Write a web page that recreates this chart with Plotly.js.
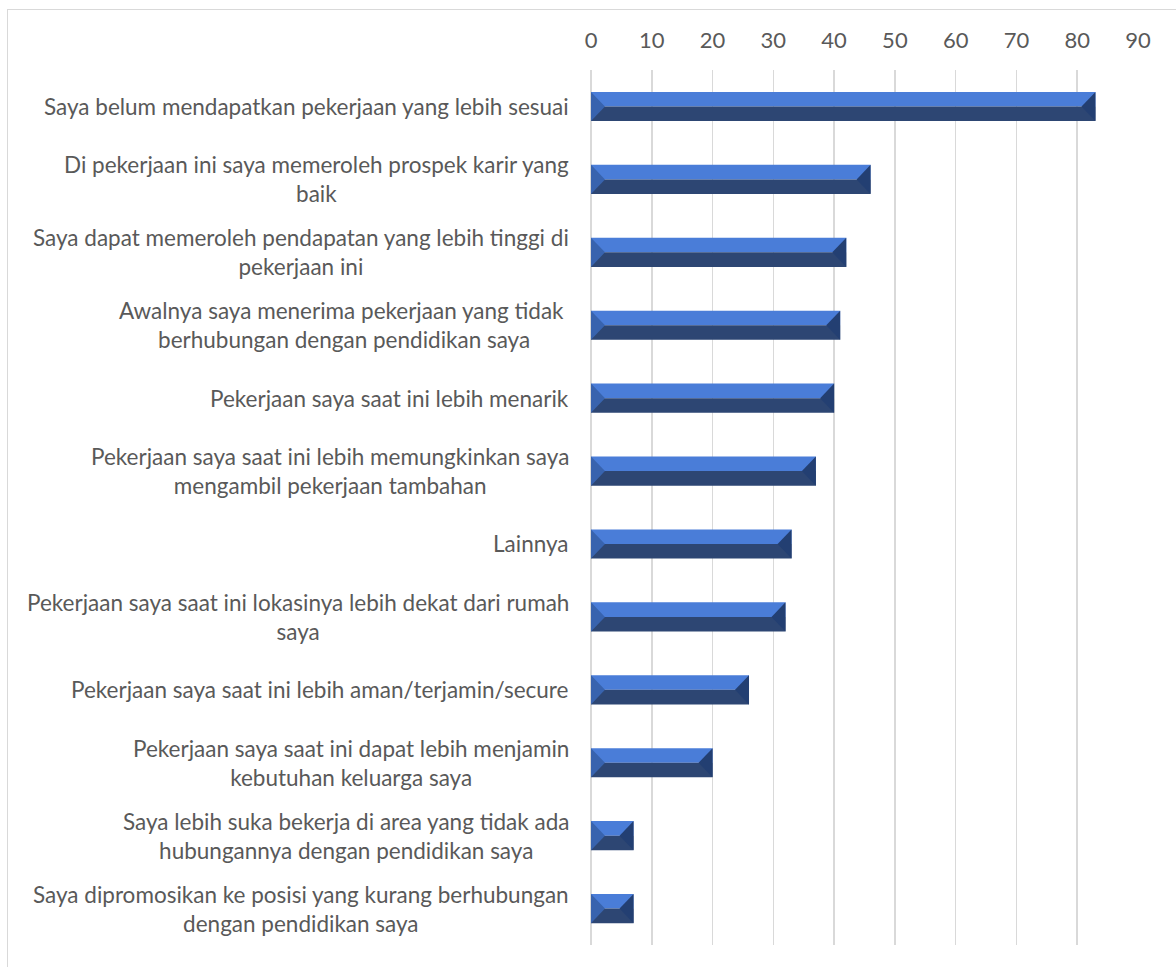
<!DOCTYPE html>
<html>
<head>
<meta charset="utf-8">
<script src="https://cdn.plot.ly/plotly-3.0.1.min.js"></script>
<style>
  html, body { margin: 0; padding: 0; background: #ffffff; }
  #frame { position: absolute; left: 7px; top: 9px; width: 1200px; height: 1000px; border: 1px solid #d9d9d9; box-sizing: border-box; }
  #chart { position: absolute; left: 0; top: 0; width: 1176px; height: 967px; }
</style>
</head>
<body>
<div id="frame"></div>
<div id="chart"></div>
<script>
const categories = [
  "Saya belum mendapatkan pekerjaan yang lebih sesuai",
  "Di pekerjaan ini saya memeroleh prospek karir yang<br>baik",
  "Saya dapat memeroleh pendapatan yang lebih tinggi di<br>pekerjaan ini",
  "Awalnya saya menerima pekerjaan yang tidak <br>berhubungan dengan pendidikan saya",
  "Pekerjaan saya saat ini lebih menarik",
  "Pekerjaan saya saat ini lebih memungkinkan saya<br>mengambil pekerjaan tambahan",
  "Lainnya",
  "Pekerjaan saya saat ini lokasinya lebih dekat dari rumah<br>saya",
  "Pekerjaan saya saat ini lebih aman/terjamin/secure",
  "Pekerjaan saya saat ini dapat lebih menjamin<br>kebutuhan keluarga saya",
  "Saya lebih suka bekerja di area yang tidak ada<br>hubungannya dengan pendidikan saya",
  "Saya dipromosikan ke posisi yang kurang berhubungan<br>dengan pendidikan saya"
];
const values = [83, 46, 42, 41, 40, 37, 33, 32, 26, 20, 7, 7];
const xTicks = [0, 10, 20, 30, 40, 50, 60, 70, 80, 90];

const FONT = "Lato, 'Liberation Sans', sans-serif";
const TXT = "#595959";
const LIGHT = "#4a7dd8";
const DARK = "#2d4673";
const LEFTC = "#3863ae";
const RIGHTC = "#233f72";

const positions = categories.map((c, i) => i);
const half = 0.2;
const bevel = 2.3;

const topHalf = {
  type: 'bar', orientation: 'h',
  x: values, y: positions,
  width: half, offset: -half,
  marker: { color: LIGHT, line: { width: 0 } },
  hoverinfo: 'skip', showlegend: false
};
const bottomHalf = {
  type: 'bar', orientation: 'h',
  x: values, y: positions,
  width: half, offset: 0,
  marker: { color: DARK, line: { width: 0 } },
  hoverinfo: 'skip', showlegend: false
};

const shapes = [];
values.forEach((v, i) => {
  const b = Math.min(bevel, v / 2);
  shapes.push({
    type: 'path', xref: 'x', yref: 'y', layer: 'above',
    path: `M 0 ${i - half} L ${b} ${i} L 0 ${i + half} Z`,
    fillcolor: LEFTC, line: { width: 0 }
  });
  shapes.push({
    type: 'path', xref: 'x', yref: 'y', layer: 'above',
    path: `M ${v} ${i - half} L ${v - b} ${i} L ${v} ${i + half} Z`,
    fillcolor: RIGHTC, line: { width: 0 }
  });
});

const annotations = categories.map((c, i) => ({
  xref: 'paper', yref: 'y', x: 0, y: i,
  xanchor: 'right', yanchor: 'middle', xshift: -20,
  text: c, showarrow: false, align: 'center',
  font: { family: FONT, size: 22.5, color: TXT }
}));

const layout = {
  width: 1176, height: 967,
  margin: { l: 591, r: 38, t: 70, b: 22, pad: 0 },
  paper_bgcolor: 'rgba(0,0,0,0)',
  plot_bgcolor: 'rgba(0,0,0,0)',
  barmode: 'overlay',
  showlegend: false,
  xaxis: {
    side: 'top', range: [0, 90],
    tickvals: xTicks, ticktext: xTicks.map(String),
    showgrid: true, gridcolor: '#d9d9d9', gridwidth: 1.5,
    zeroline: true, zerolinecolor: '#d9d9d9', zerolinewidth: 1.5,
    showline: false,
    ticks: 'outside', ticklen: 12, tickcolor: 'rgba(0,0,0,0)',
    tickfont: { family: FONT, size: 22, color: TXT },
    fixedrange: true
  },
  yaxis: {
    range: [categories.length - 0.5, -0.5],
    showticklabels: false, showgrid: false, zeroline: false, showline: false,
    ticks: '', fixedrange: true
  },
  shapes: shapes,
  annotations: annotations
};

Plotly.newPlot('chart', [topHalf, bottomHalf], layout, { displayModeBar: false, staticPlot: true });
</script>
</body>
</html>
